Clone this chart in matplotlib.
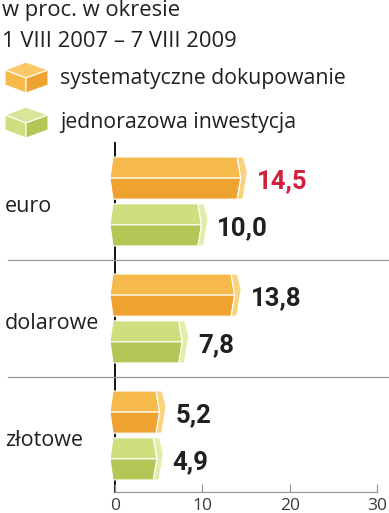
import matplotlib
matplotlib.use("Agg")
import matplotlib.pyplot as plt
from matplotlib.patches import Polygon
import matplotlib.transforms as mtransforms

# ---- data ----
categories = ["euro", "dolarowe", "złotowe"]
series_names = ["systematyczne dokupowanie", "jednorazowa inwestycja"]
systematic = [14.5, 13.8, 5.2]
lump_sum = [10.0, 7.8, 4.9]
value_labels_sys = ["14,5", "13,8", "5,2"]
value_labels_lump = ["10,0", "7,8", "4,9"]
xticks = [0, 10, 20, 30]
title_lines = ["w proc. w okresie", "1 VIII 2007 – 7 VIII 2009"]

# ---- style ----
FONT = ["Open Sans", "DejaVu Sans"]
BOLD = ["Roboto", "DejaVu Sans"]
plt.rcParams['font.family'] = FONT
DARK = "#231f20"
RED = "#d2203f"
GRAY = "#9a9a9a"
orange = dict(top="#f6b94b", bottom="#eea22f", cap="#f9d37c")
green = dict(top="#cfdf80", bottom="#b5c656", cap="#e3ecab")

W, H = 389, 513
fig = plt.figure(figsize=(W / 100, H / 100), dpi=100)
fig.patch.set_facecolor("white")

# main axes: x=0 at px 115, x=30 at px 377; y from px 143 to 492
ax = fig.add_axes([115 / W, 1 - 492 / H, (377 - 115) / W, (492 - 143) / H])
ax.set_xlim(0, 30)
ax.set_ylim(2.483, -0.5)
ax.set_facecolor("none")
for s in ["top", "right"]:
    ax.spines[s].set_visible(False)
ax.spines["left"].set_color("#111111")
ax.spines["left"].set_linewidth(1.4)
ax.spines["left"].set_zorder(1)
ax.spines["bottom"].set_color(GRAY)
ax.spines["bottom"].set_linewidth(0.9)
ax.set_yticks([])
ax.set_xticks(xticks)
ax.set_xticklabels([str(t) for t in xticks])
ax.tick_params(axis="x", direction="in", length=6, width=0.9, color=GRAY,
               labelsize=12.5, labelcolor="#3a3a3a", pad=4)

px_x = 262 / 30.0  # pixels per unit
hh = 0.18          # half bar height (units of group pitch)
off = 0.2


def draw_bar(v, c, col):
    top, bot = c - hh, c + hh
    R = v - 0.5
    mid = c
    Lp, Lc = -0.57, -0.23
    top_face = [(Lc, top), (R, top), (R + 0.4, mid), (Lp, mid)]
    bot_face = [(Lp, mid), (R + 0.4, mid), (R, bot), (Lc, bot)]
    cap = [(R, top), (R + 0.7, top), (R + 1.15, c - 0.05), (R + 0.65, bot),
           (R, bot), (R + 0.4, mid)]
    for pts, fc in [(top_face, col["top"]), (bot_face, col["bottom"]), (cap, col["cap"])]:
        ax.add_patch(Polygon(pts, closed=True, facecolor=fc, edgecolor="white",
                             linewidth=0.8, joinstyle="miter", zorder=3, clip_on=False))


for i, cat in enumerate(categories):
    c1 = i - off
    c2 = i + off
    draw_bar(systematic[i], c1, orange)
    draw_bar(lump_sum[i], c2, green)
    ax.annotate(value_labels_sys[i], xy=(systematic[i] + 0.6, c1), xytext=(7, -7.5),
                textcoords="offset points", ha="left", va="baseline",
                fontsize=18.5, fontweight="bold", family=BOLD,
                color=RED if i == 0 else DARK, zorder=5)
    ax.annotate(value_labels_lump[i], xy=(lump_sum[i] + 0.6, c2), xytext=(7, -7.5),
                textcoords="offset points", ha="left", va="baseline",
                fontsize=18.5, fontweight="bold", family=BOLD, color=DARK, zorder=5)

# category labels
blend = mtransforms.blended_transform_factory(fig.transFigure, ax.transData)
for i, cat in enumerate(categories):
    ax.text(5 / W, i + 0.094, cat, transform=blend, ha="left", va="baseline",
            fontsize=15.5, color=DARK)

# separators between groups
for yv in [0.5, 1.5]:
    ax.plot([(8 - 115) / px_x, (389 - 115) / px_x], [yv, yv], color=GRAY,
            linewidth=0.9, clip_on=False, zorder=2)

# overlay for title and legend
ov = fig.add_axes([0, 0, 1, 1])
ov.set_xlim(0, W)
ov.set_ylim(H, 0)
ov.axis("off")
ov.set_facecolor("none")

ov.text(2, 16, title_lines[0], ha="left", va="baseline", fontsize=15.8, color=DARK)
ov.text(2, 47, title_lines[1], ha="left", va="baseline", fontsize=15.8, color=DARK)


def cube(y0, col, light):
    top = [(26, y0 - 1), (48, y0 + 7), (26, y0 + 15), (5, y0 + 7)]
    left = [(5, y0 + 7), (26, y0 + 15), (26, y0 + 30), (5, y0 + 22)]
    right = [(26, y0 + 15), (48, y0 + 7), (48, y0 + 22), (26, y0 + 30)]
    for pts, fc in [(top, light), (left, col["top"]), (right, col["bottom"])]:
        ov.add_patch(Polygon(pts, closed=True, facecolor=fc, edgecolor="white",
                             linewidth=0.8, joinstyle="miter"))


cube(63, orange, "#f8c869")
cube(108, green, "#d8e699")
ov.text(60, 84, series_names[0], ha="left", va="baseline", fontsize=15.3, color=DARK)
ov.text(60, 128, series_names[1], ha="left", va="baseline", fontsize=15.3, color=DARK)

fig.savefig("out.png", dpi=100, facecolor="white")
